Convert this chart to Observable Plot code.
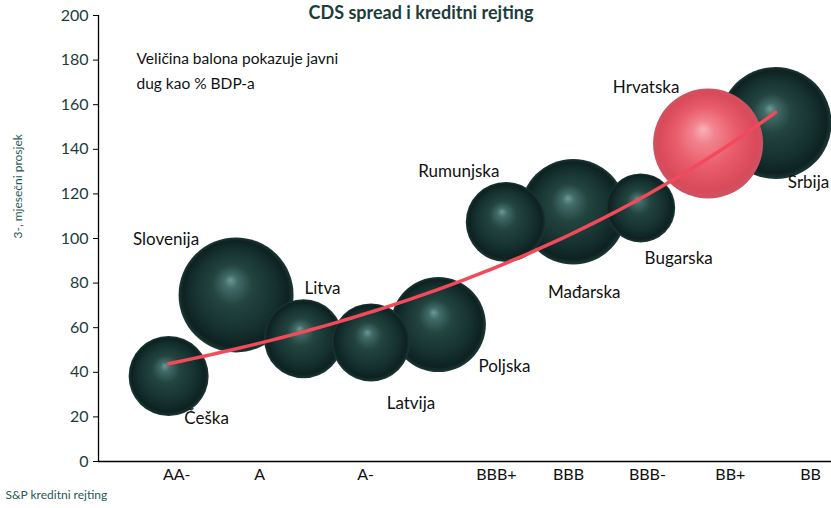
<!DOCTYPE html>
<html>
<head>
<meta charset="utf-8">
<script src="https://cdn.jsdelivr.net/npm/d3@7"></script>
<script src="https://cdn.jsdelivr.net/npm/@observablehq/plot@0.6"></script>
<style>
  html, body { margin: 0; padding: 0; background: #fff; }
  #chart svg { display: block; }
</style>
</head>
<body>
<div id="chart"></div>
<script>
// ---- data ----
const countries = ["Slovenija", "Litva", "Poljska", "Latvija", "Češka", "Rumunjska", "Mađarska", "Bugarska", "Hrvatska", "Srbija"];
const ratingScore = [2, 3, 5, 4, 1, 6, 7, 8, 9, 10];             // position on rating axis
const cdsSpread   = [74.7, 55, 61.4, 53.4, 38.3, 107.4, 112, 113.7, 142.6, 151.8]; // 3-month avg CDS
const publicDebt  = [71, 33.5, 48.5, 32.7, 34.4, 34.4, 60, 25.6, 65, 67.4];       // % of GDP (bubble size)

const ratingLabels = ["AA-", "A", "A-", "BBB+", "BBB", "BBB-", "BB+", "BB"];
const ratingTickAt = [1.12, 2.35, 3.92, 5.86, 6.93, 8.10, 9.33, 10.52];

const title = "CDS spread i kreditni rejting";
const note = "Veličina balona pokazuje javni\ndug kao % BDP-a";
const yLabel = "3-, mjesečni prosjek";
const xLabel = "S&P kreditni rejting";

// ---- build tables ----
const bubbles = countries.map((c, i) => ({name: c, x: ratingScore[i], y: cdsSpread[i], r: publicDebt[i]}));
const ticks = ratingLabels.map((l, i) => ({label: l, x: ratingTickAt[i]}));

// Excel-style exponential trend line, fitted to the bubbles
const mx = d3.mean(bubbles, d => d.x), ml = d3.mean(bubbles, d => Math.log(d.y));
const b = d3.sum(bubbles, d => (d.x - mx) * (Math.log(d.y) - ml)) / d3.sum(bubbles, d => (d.x - mx) ** 2);
const a = Math.exp(ml - b * mx);
const xmin = d3.min(bubbles, d => d.x), xmax = d3.max(bubbles, d => d.x);
const trend = d3.range(0, 101).map(k => { const x = xmin + (xmax - xmin) * k / 100; return {x, y: a * Math.exp(b * x)}; });

// label offsets (pixels) relative to bubble centres
const labelOffset = {
  "Češka": [38, 42], "Slovenija": [-70, -55], "Litva": [19, -50], "Latvija": [40, 61],
  "Poljska": [66, 42], "Rumunjska": [-47, -50], "Mađarska": [11, 81], "Bugarska": [38, 51],
  "Hrvatska": [-62, -56], "Srbija": [33, 60]
};

const teal = "#1b3d3b";
const font = "Lato, 'Open Sans', sans-serif";
const xDomain = [-0.04, 10.83];

const plot = Plot.plot({
  width: 831,
  height: 508,
  marginLeft: 98,
  marginRight: 0,
  marginTop: 15,
  marginBottom: 47,
  style: {fontFamily: font, background: "#fff", overflow: "visible"},
  x: {domain: xDomain, axis: null},
  y: {domain: [0, 200], axis: null},
  r: {type: "sqrt", domain: [0, 71], range: [0, 57.5]},
  marks: [
    Plot.axisY({ticks: d3.range(0, 201, 20), tickSize: 5, tickPadding: 5, fontSize: 16, color: teal, stroke: "#000", label: null}),
    Plot.ruleX([xDomain[0]], {y1: 0, y2: 200, stroke: "#000", strokeWidth: 1.3}),
    Plot.ruleY([0], {stroke: "#000", strokeWidth: 1.3}),
    // bubbles: dark teal spheres and a red one for Croatia
    Plot.dot(bubbles, {x: "x", y: "y", r: "r",
      fill: d => d.name === "Hrvatska" ? "url(#sphereRed)" : "url(#sphereDark)",
      stroke: "none"}),
    // trend line
    Plot.line(trend, {x: "x", y: "y", stroke: "#f24a5b", strokeWidth: 3.5, curve: "linear", strokeLinecap: "round"}),
    // country labels
    ...bubbles.map(d => Plot.text([d], {x: "x", y: "y", text: "name",
      dx: labelOffset[d.name][0], dy: labelOffset[d.name][1], fontSize: 17, fill: "#111"})),
    // rating labels
    Plot.text(ticks, {x: "x", text: "label", frameAnchor: "bottom", dy: 18, fontSize: 16, fill: "#111"}),
    // note
    Plot.text([note], {frameAnchor: "top-left", text: d => d, dx: 38, dy: 53, lineAnchor: "middle", lineHeight: 1.6, textAnchor: "start", fontSize: 15.5, fill: "#111"}),
    // title
    Plot.text([title], {frameAnchor: "top", text: d => d, dx: -44, dy: -9, lineAnchor: "top", fontSize: 18, fontWeight: "bold", fill: teal}),
    // axis titles
    Plot.text([yLabel], {frameAnchor: "left", text: d => d, dx: -80, rotate: -90, fontSize: 12, fill: "#1e5a55"}),
    Plot.text([xLabel], {frameAnchor: "bottom-left", text: d => d, dx: -93, dy: 37, textAnchor: "start", fontSize: 12, fill: "#1e5a55"})
  ]
});

// sphere shading gradients
const ns = "http://www.w3.org/2000/svg";
const defs = document.createElementNS(ns, "defs");
function grad(id, stops) {
  const g = document.createElementNS(ns, "radialGradient");
  g.setAttribute("id", id);
  g.setAttribute("cx", "50%"); g.setAttribute("cy", "50%"); g.setAttribute("r", "50%");
  g.setAttribute("fx", "45%"); g.setAttribute("fy", "37%");
  for (const [o, c] of stops) {
    const s = document.createElementNS(ns, "stop");
    s.setAttribute("offset", o); s.setAttribute("stop-color", c);
    g.appendChild(s);
  }
  defs.appendChild(g);
}
grad("sphereDark", [["0%", "#6b9895"], ["12%", "#416b68"], ["35%", "#23443f"], ["70%", "#163230"], ["92%", "#0d2221"], ["100%", "#1c3836"]]);
grad("sphereRed", [["0%", "#f9b2ba"], ["20%", "#f2848f"], ["55%", "#e95c6b"], ["88%", "#d94a5b"], ["100%", "#cf5262"]]);
plot.insertBefore(defs, plot.firstChild);

document.getElementById("chart").appendChild(plot);
</script>
</body>
</html>
